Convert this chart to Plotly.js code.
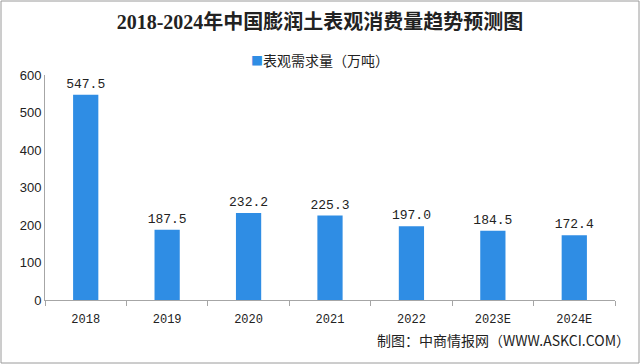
<!DOCTYPE html>
<html><head><meta charset="utf-8">
<script src="https://cdn.plot.ly/plotly-3.0.1.min.js"></script>
<style>html,body{margin:0;padding:0;background:#fff}#chart{width:640px;height:364px}</style>
</head><body><div id="chart"></div>
<script>
const years = ["2018","2019","2020","2021","2022","2023E","2024E"];
const demand = [547.5, 187.5, 232.2, 225.3, 197.0, 184.5, 172.4];
const yTicks = [0,100,200,300,400,500,600];
const seriesName = "表观需求量（万吨）";
const titleText = "2018-2024年中国膨润土表观消费量趋势预测图";
const footerText = "制图：中商情报网（WWW.ASKCI.COM）";

const W=640,H=364,L=45,R=25,T=75,B=64;
const pw=W-L-R, ph=H-T-B;
const barColor = "#2f8de4";

const trace = {
  type:"bar", x:years, y:demand, name:seriesName,
  marker:{color:barColor},
  text:demand.map(v=>v.toFixed(1)), textposition:"outside", constraintext:"none",
  textfont:{family:"Liberation Mono, Noto Sans CJK SC", size:13, color:"#222"},
  cliponaxis:false, showlegend:false
};
const layout = {
  width:W, height:H, margin:{l:L,r:R,t:T,b:B},
  paper_bgcolor:"#fff", plot_bgcolor:"#fff",
  bargap:0.69,
  title:{text:"<b>"+titleText+"</b>", x:0.5, xanchor:"center", y:1-22/H, yanchor:"middle",
    font:{family:"Liberation Serif, Noto Sans CJK SC", size:20, color:"#222"}},
  showlegend:false,
  xaxis:{type:"category", showline:true, linecolor:"#a6a6a6", linewidth:1,
    ticks:"outside", tickson:"boundaries", ticklen:5, tickcolor:"#a6a6a6",
    ticklabelstandoff:8,
    tickfont:{family:"Liberation Mono, Noto Sans CJK SC", size:12, color:"#222"},
    showgrid:false, zeroline:false},
  yaxis:{range:[0,600], tickvals:yTicks, showline:true, linecolor:"#a6a6a6", linewidth:1,
    ticks:"", showgrid:false, zeroline:false,
    tickfont:{family:"Liberation Sans, Arial", size:13, color:"#222"}},
  annotations:[
    {text:"<span style='color:"+barColor+"; font-size:12px'>■</span>"+seriesName, xref:"paper", yref:"paper",
      x:(320-L)/pw, xanchor:"center", y:1+(T-60)/ph, yanchor:"middle", showarrow:false,
      font:{family:"Noto Sans CJK SC", size:14, color:"#222"}},
    {text:footerText, xref:"paper", yref:"paper", x:1+(R-8)/pw, xanchor:"right",
    y:-(340-T-ph)/ph, yanchor:"middle", showarrow:false,
    font:{family:"Noto Sans CJK SC", size:14, color:"#222"}}],
  shapes:[{type:"rect", xref:"paper", yref:"paper",
    x0:-(L-1)/pw, x1:1+(R-1)/pw, y0:-(B-1)/ph, y1:1+(T-1)/ph,
    line:{color:"#9a9a9a", width:1}}]
};
Plotly.newPlot("chart",[trace],layout,{displayModeBar:false,staticPlot:true});
</script></body></html>
